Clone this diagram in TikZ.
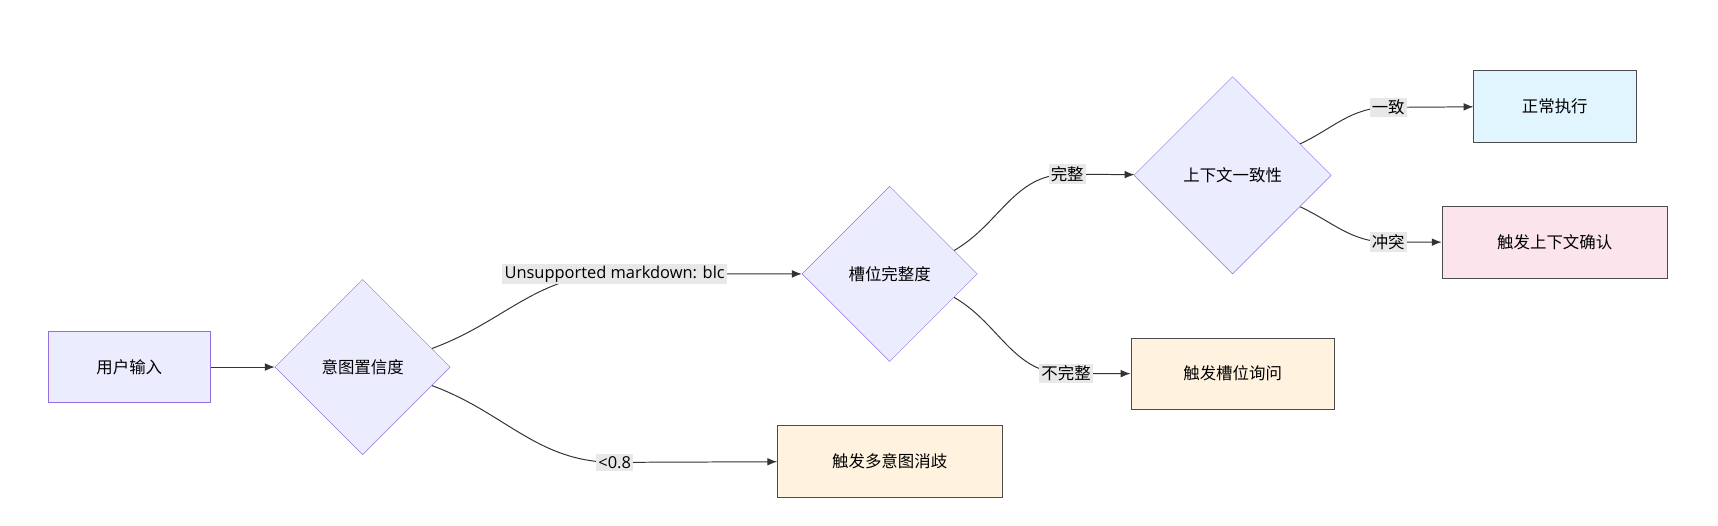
\documentclass[tikz,border=0pt]{standalone}
\usepackage{fontspec}
\setmainfont{Open Sans}
\newfontfamily\cjk{Noto Sans CJK SC}
\usetikzlibrary{shapes.geometric, arrows.meta, positioning}

\definecolor{nodefill}{HTML}{ECECFF}
\definecolor{nodeline}{HTML}{9370DB}
\definecolor{okfill}{HTML}{E1F5FE}
\definecolor{askfill}{HTML}{FFF3E0}
\definecolor{pinkfill}{HTML}{FCE4EC}
\definecolor{labelbg}{HTML}{E8E8E8}

\tikzset{
  box/.style={draw=nodeline, fill=nodefill, minimum width=148pt, minimum height=65pt, inner sep=0pt, font=\cjk\fontsize{15}{18}\selectfont},
  outbox/.style={box, draw=black!70},
  decide/.style={diamond, draw=nodeline, fill=nodefill, aspect=1, inner sep=0pt, minimum width=#1, minimum height=#1, font=\cjk\fontsize{15}{18}\selectfont},
  lab/.style={fill=labelbg, inner sep=2pt, font=\cjk\fontsize{15}{18}\selectfont},
  edge/.style={draw=black!80, line width=0.9pt, -{Latex[length=9pt,width=7pt]}}
}

\begin{document}
\begin{tikzpicture}[x=1pt,y=-1pt]
\useasboundingbox (0,0) rectangle (1568,480);

\node[box] (input) at (118,335) {用户输入};
\node[decide=160pt] (intent) at (331,335) {意图置信度};
\node[decide=160pt] (slot) at (812,250) {槽位完整度};
\node[decide=180pt] (ctx) at (1125,160) {上下文一致性};

\node[outbox, fill=okfill, minimum width=148pt] (run) at (1419,97) {正常执行};
\node[outbox, fill=pinkfill, minimum width=206pt] (confirm) at (1419,221) {触发上下文确认};
\node[outbox, fill=askfill, minimum width=186pt] (askslot) at (1125,341) {触发槽位询问};
\node[outbox, fill=askfill, minimum width=205pt] (disamb) at (812,421) {触发多意图消歧};

% edge labels
\node[lab, font=\fontsize{15}{18}\selectfont] (lblc) at (561,250) {Unsupported markdown: blc};
\node[lab, font=\fontsize{15}{18}\selectfont] (llow) at (561,422) {<0.8};
\node[lab] (lfull) at (974,159) {完整};
\node[lab] (lpart) at (973,341) {不完整};
\node[lab] (lsame) at (1267,98) {一致};
\node[lab] (lconf) at (1267,221) {冲突};

\draw[edge] (input) -- (intent);
\draw[edge] (intent.15) to[out=20,in=180] (lblc.center) -- (slot);
\draw[edge] (intent.-15) to[out=-20,in=180] (llow.center) -- (disamb);
\draw[edge] (slot.20) to[out=30,in=180] (lfull.center) -- (ctx);
\draw[edge] (slot.-20) to[out=-30,in=180] (lpart.center) -- (askslot);
\draw[edge] (ctx.25) to[out=25,in=180] (lsame.center) -- (run);
\draw[edge] (ctx.-25) to[out=-25,in=180] (lconf.center) -- (confirm);

% labels drawn again on top of the connectors
\node[lab, font=\fontsize{15}{18}\selectfont] at (lblc) {Unsupported markdown: blc};
\node[lab, font=\fontsize{15}{18}\selectfont] at (llow) {<0.8};
\node[lab] at (lfull) {完整};
\node[lab] at (lpart) {不完整};
\node[lab] at (lsame) {一致};
\node[lab] at (lconf) {冲突};
\end{tikzpicture}
\end{document}
